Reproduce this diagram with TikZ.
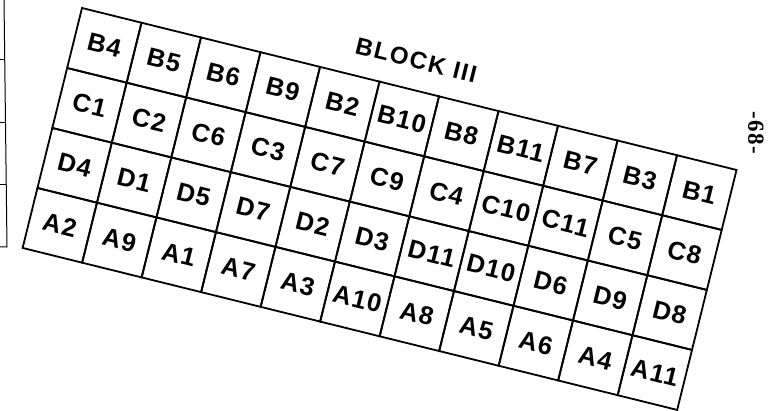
\documentclass[tikz,border=0pt]{standalone}
\usepackage{fontspec}
\setmainfont{Liberation Sans}
\newfontfamily\plotfont[LetterSpace=5]{Liberation Sans}
\newfontfamily\titlefont[LetterSpace=7]{Liberation Sans}
\newfontfamily\pagefont[LetterSpace=6]{Liberation Serif}
\usetikzlibrary{positioning}

\begin{document}
\begin{tikzpicture}[
			x=1pt, y=1pt,
			plot/.style={
				draw, line width=1.8pt,
				minimum width=61.3pt, minimum height=61.8pt,
				inner sep=0pt, transform shape,
				font=\fontsize{25.5}{25.5}\plotfont\bfseries
			},
			title node/.style={font=\fontsize{24}{24}\titlefont\bfseries, transform shape},
			page node/.style={font=\fontsize{23}{23}\pagefont\bfseries, rotate=-90}
			]
			\useasboundingbox (0,0) rectangle (778,411);
			
			% edge of the neighbouring block
			\draw[line width=1pt] (4,411) -- (7,164) -- (0,164);
			\draw[line width=1pt] (0,351) -- (4.7,351);
			\draw[line width=1pt] (0,288) -- (5.5,288);
			\draw[line width=1pt] (0,226) -- (6.2,226);
			
			\coordinate (nw) at (82,403);
			\begin{scope}[shift={(nw)}, rotate=-13.9]
				\foreach \row [count=\j] in {
						{B4,B5,B6,B9,B2,B10,B8,B11,B7,B3,B1},
						{C1,C2,C6,C3,C7,C9,C4,C10,C11,C5,C8},
						{D4,D1,D5,D7,D2,D3,D11,D10,D6,D9,D8},
						{A2,A9,A1,A7,A3,A10,A8,A5,A6,A4,A11}} {
					\foreach \lbl [count=\i] in \row {
						\node[plot] (\lbl) at ({(\i-0.5)*61.3}, {-(\j-0.5)*61.8}) {\lbl};
					}
				}
				\node[title node] (title) at (337, 29.6) {BLOCK III};
			\end{scope}
			
			\node[page node] (page) at (756, 278) {-68-};
			
		\end{tikzpicture}
\end{document}
